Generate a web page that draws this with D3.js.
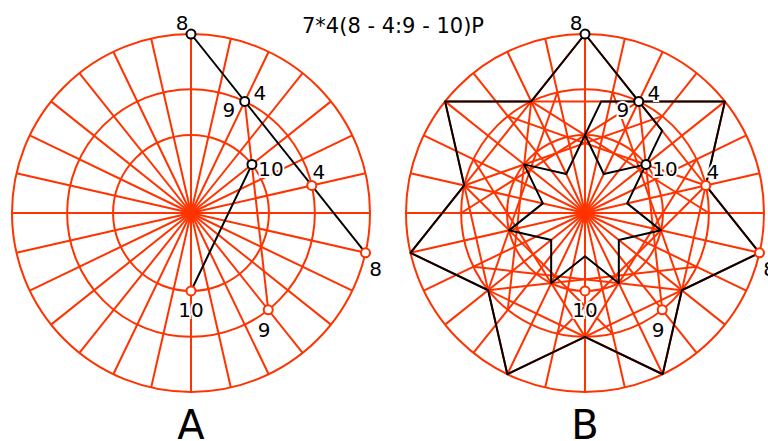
<!DOCTYPE html>
<html>
  <head>
    <title>7*4(8 - 4:9 - 10)P construction</title>
    <script src="https://d3js.org/d3.v7.min.js"></script>
    <style>
      body { margin: 0; background: #fff; }
      text { font-family: "DejaVu Sans", sans-serif; }
    </style>
  </head>
  <body>
    <script>
      // Defining the data
      const spokeCount = 28;
      const ringFractions = [1, 0.692, 0.4355];   // outer, middle, inner circle
      const valleyFraction = 0.2417;              // inner star valleys
      const starStep = 4;                          // 7-fold: one unit every 4 spokes
      const title = "7*4(8 - 4:9 - 10)P";
      const panelNames = ["A", "B"];

      // chords: [ring, fromSpoke, toSpoke]
      const chordsBlackA = [[0, 0, 8], [2, 4, 14]];
      const chordsOrangeA = [[1, 2, 11]];
      // chord families repeated 7 times in B
      const chordFamiliesB = [[0, 0, 8], [1, 2, 11], [1, 1, 10]];

      // markers: [ring, spoke, isBase]
      const markers = [
        [0, 0, true], [1, 2, true], [2, 4, true],
        [1, 6, false], [0, 8, false], [1, 11, false], [2, 14, false]
      ];
      // labels: [markerIndex, text]
      const labels = [
        [0, "8"], [1, "4"], [1, "9"], [2, "10"],
        [3, "4"], [4, "8"], [5, "9"], [6, "10"]
      ];

      const width = 768;
      const height = 441;
      const orange = "#ff3300";
      const centers = [[191, 213], [585, 213]];
      const labelOffsets = [[-9, -4], [15, -1], [-16, 16], [19, 12],
                            [7, -6], [10, 23], [-4, 27], [0, 26]];

      const r = d3.scaleLinear().domain([0, 1]).range([0, 179]);
      const ang = d3.scaleLinear().domain([0, spokeCount]).range([0, 2 * Math.PI]);

      const svg = d3.select("body")
        .append("svg")
        .attr("width", width)
        .attr("height", height);

      svg.append("text")
        .attr("x", 393)
        .attr("y", 33)
        .attr("text-anchor", "middle")
        .attr("font-size", 21)
        .text(title);

      function pt(c, frac, spoke) {
        const p = d3.pointRadial(ang(spoke), r(frac));
        return [c[0] + p[0], c[1] + p[1]];
      }
      function chordPts(c, ch) {
        return [pt(c, ringFractions[ch[0]], ch[1]), pt(c, ringFractions[ch[0]], ch[2])];
      }
      function intersect(l1, l2) {
        const [[x1, y1], [x2, y2]] = l1, [[x3, y3], [x4, y4]] = l2;
        const d = (x1 - x2) * (y3 - y4) - (y1 - y2) * (x3 - x4);
        const t = ((x1 - x3) * (y3 - y4) - (y1 - y3) * (x3 - x4)) / d;
        return [x1 + t * (x2 - x1), y1 + t * (y2 - y1)];
      }
      const line = d3.line();

      function grid(g, c) {
        g.selectAll("line.spoke")
          .data(d3.range(spokeCount))
          .enter()
          .append("line")
          .attr("x1", c[0]).attr("y1", c[1])
          .attr("x2", d => pt(c, 1, d)[0])
          .attr("y2", d => pt(c, 1, d)[1])
          .attr("stroke", orange).attr("stroke-width", 2);
        g.selectAll("circle.ring")
          .data(ringFractions)
          .enter()
          .append("circle")
          .attr("cx", c[0]).attr("cy", c[1])
          .attr("r", d => r(d))
          .attr("fill", "none")
          .attr("stroke", orange).attr("stroke-width", 2);
      }

      function drawChords(g, c, list, color) {
        g.append("g").selectAll("path")
          .data(list)
          .enter()
          .append("path")
          .attr("d", d => line(chordPts(c, d)))
          .attr("fill", "none")
          .attr("stroke", color).attr("stroke-width", 2);
      }

      function drawMarkers(g, c) {
        g.append("g").selectAll("circle")
          .data(markers)
          .enter()
          .append("circle")
          .attr("cx", d => pt(c, ringFractions[d[0]], d[1])[0])
          .attr("cy", d => pt(c, ringFractions[d[0]], d[1])[1])
          .attr("r", 4.5)
          .attr("fill", "#fff")
          .attr("stroke", d => d[2] ? "#000" : orange)
          .attr("stroke-width", 2);
        g.append("g").selectAll("text")
          .data(labels)
          .enter()
          .append("text")
          .attr("x", (d, i) => pt(c, ringFractions[markers[d[0]][0]], markers[d[0]][1])[0] + labelOffsets[i][0])
          .attr("y", (d, i) => pt(c, ringFractions[markers[d[0]][0]], markers[d[0]][1])[1] + labelOffsets[i][1])
          .attr("text-anchor", "middle")
          .attr("font-size", 20)
          .attr("stroke", "#fff")
          .attr("stroke-width", 4)
          .attr("paint-order", "stroke")
          .text(d => d[1]);
      }

      // Panel A
      const gA = svg.append("g");
      grid(gA, centers[0]);
      drawChords(gA, centers[0], chordsOrangeA, orange);
      drawChords(gA, centers[0], chordsBlackA, "#000");
      drawMarkers(gA, centers[0]);

      // Panel B
      const gB = svg.append("g");
      const cB = centers[1];
      grid(gB, cB);
      const rot = d3.range(spokeCount / starStep).map(k => k * starStep);
      const orangeB = rot.flatMap(k => chordFamiliesB.map(f => [f[0], f[1] + k, f[2] + k]));
      drawChords(gB, cB, orangeB, orange);

      const outerStar = rot.flatMap(k => [pt(cB, ringFractions[0], k), pt(cB, ringFractions[1], k + 2)]);
      const innerStar = rot.flatMap(k => [pt(cB, ringFractions[2], k), pt(cB, valleyFraction, k + 2)]);
      // connectors from the inner star to the outer star valley
      const p1 = intersect(chordPts(cB, [2, 18, 0]), chordPts(cB, [0, 24, 4]));
      const p2 = intersect(chordPts(cB, [2, 4, 14]), chordPts(cB, [0, 0, 8]));
      const connectors = [
        [pt(cB, ringFractions[2], 0), p1, pt(cB, ringFractions[1], 2), p2, pt(cB, ringFractions[2], 4)]
      ];
      const blackB = gB.append("g");
      blackB.selectAll("path")
        .data([outerStar, innerStar])
        .enter()
        .append("path")
        .attr("d", d => line(d) + "Z")
        .attr("fill", "none")
        .attr("stroke", "#000").attr("stroke-width", 2)
        .attr("stroke-linejoin", "round");
      blackB.selectAll("path.conn")
        .data(connectors)
        .enter()
        .append("path")
        .attr("class", "conn")
        .attr("d", d => line(d))
        .attr("fill", "none")
        .attr("stroke", "#000").attr("stroke-width", 2);
      drawMarkers(gB, cB);

      // Panel names
      svg.selectAll("text.panel")
        .data(panelNames)
        .enter()
        .append("text")
        .attr("class", "panel")
        .attr("x", (d, i) => centers[i][0])
        .attr("y", 439)
        .attr("text-anchor", "middle")
        .attr("font-size", 40)
        .text(d => d);
    </script>
  </body>
</html>
